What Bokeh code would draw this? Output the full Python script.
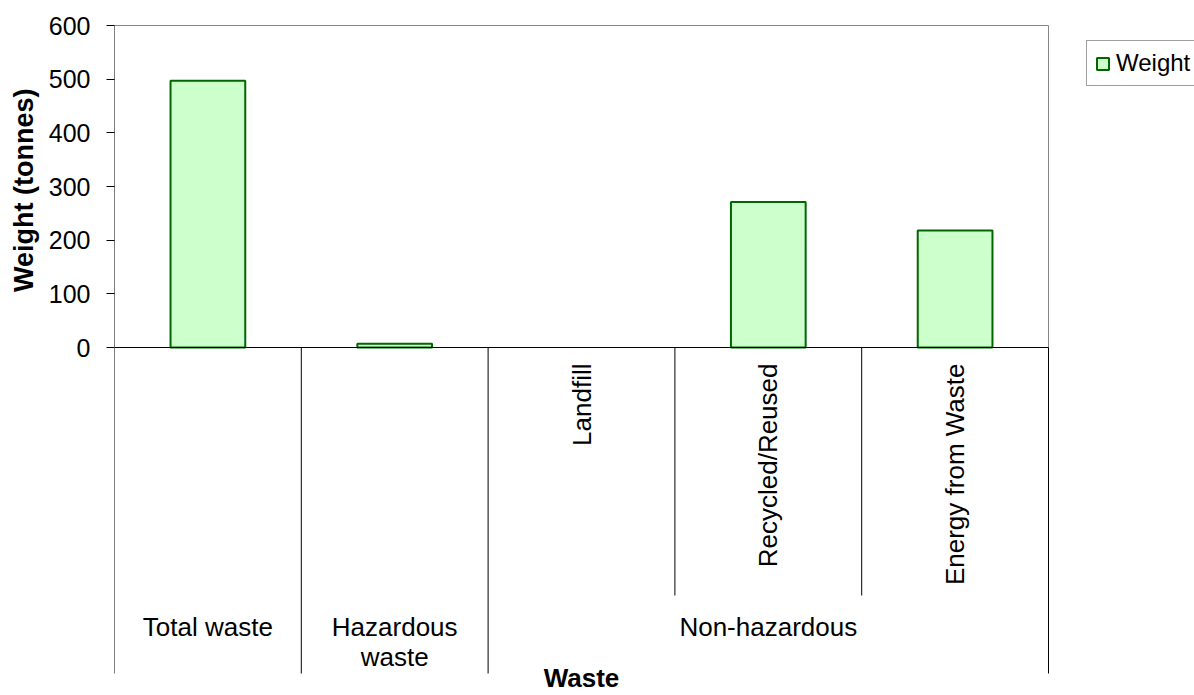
import math
from bokeh.plotting import figure
from bokeh.models import (Range1d, FixedTicker, Legend, LegendItem, ColumnDataSource,
                          CDSView, BooleanFilter, Title)
from bokeh.core.properties import value
from bokeh.embed import file_html
from bokeh.resources import INLINE

# ---------------- data ----------------
categories = ["Total waste", "Hazardous waste", "Landfill", "Recycled/Reused", "Energy from Waste"]
sub_labels = ["", "", "Landfill", "Recycled/Reused", "Energy from Waste"]
groups = ["Total waste", "Hazardous\nwaste", "Non-hazardous"]
group_spans = [1, 1, 3]
weights = [497, 7, 0, 271, 218]
y_ticks = [0, 100, 200, 300, 400, 500, 600]
series_name = "Weight"
y_title = "Weight (tonnes)"
x_title = "Waste"

# ---------------- layout ----------------
W, H = 1194, 695
LEFT, TOP = 114, 23          # frame origin on the canvas
CAT_PX = 186.8               # width of one category in px
PLOT_H = 322                 # height of 0..600 in px
FONT = "Liberation Sans"
Y_MAX = y_ticks[-1]
UPX = Y_MAX / PLOT_H         # data units per pixel (y)
TOP_PAD = 2                  # px above the 600 line inside the frame


def below(px):
    """data y value lying `px` screen pixels below the zero line"""
    return -px * UPX


n = len(categories)
frame_w = W - LEFT
frame_h = H - TOP
x_end = frame_w / CAT_PX
y_top = Y_MAX + TOP_PAD * UPX
y_bot = y_top - frame_h * UPX

xs = [i + 0.5 for i in range(n)]
src = ColumnDataSource(dict(x=xs, top=weights, cat=categories))

p = figure(width=W, height=H, output_backend="svg", toolbar_location=None,
           x_range=Range1d(0, x_end), y_range=Range1d(y_bot, y_top),
           x_axis_location=None, y_axis_location="left",
           min_border_left=LEFT, min_border_top=TOP,
           min_border_right=0, min_border_bottom=0)
p.xgrid.visible = False
p.ygrid.visible = False
p.outline_line_color = None
p.background_fill_color = "white"
p.border_fill_color = "white"

# y axis (ticks + labels only; lines drawn below)
ya = p.yaxis[0]
ya.ticker = FixedTicker(ticks=y_ticks)
ya.major_tick_in = 0
ya.major_tick_out = 8
ya.minor_tick_in = 0
ya.minor_tick_out = 0
ya.axis_line_color = None
ya.major_tick_line_color = "black"
ya.major_label_text_font = FONT
ya.major_label_text_font_size = "25px"
ya.major_label_text_color = "black"
ya.major_label_standoff = 16

# value-axis title, placed beside the 0..600 part
p.add_layout(Title(text=y_title, align="right", offset=65, standoff=13,
                   text_font=FONT, text_font_size="27px", text_font_style="bold",
                   text_color="black"), "left")

# plot-area border (grey top/right)
p.segment(x0=[0, n], y0=[Y_MAX, Y_MAX], x1=[n, n], y1=[Y_MAX, 0],
          line_color="#868686", line_width=1)

# bars (a zero value draws nothing)
view = CDSView(filter=BooleanFilter([w > 0 for w in weights]))
r = p.vbar(x="x", top="top", bottom=0, width=0.4, source=src, view=view,
           fill_color="#CCFFCC", line_color="#006600", line_width=2)

# category separators / axis lines
bounds = [0]
for s in group_spans:
    bounds.append(bounds[-1] + s)
sx, sy0, sy1 = [], [], []
for b in bounds:
    sx.append(b); sy0.append(0); sy1.append(below(326))
for gi, s in enumerate(group_spans):
    for k in range(1, s):
        sx.append(bounds[gi] + k); sy0.append(0); sy1.append(below(248))
p.segment(x0=sx, y0=sy0, x1=sx, y1=sy1, line_color="black", line_width=1)
# value axis line and category axis line
p.segment(x0=[0, 0], y0=[0, 0], x1=[0, n], y1=[Y_MAX, 0], line_color="black", line_width=1)

# sub-category labels (rotated)
sub = [(x, t) for x, t in zip(xs, sub_labels) if t]
p.text(x=[a for a, _ in sub], y=[below(16)] * len(sub), text=[t for _, t in sub],
       angle=math.pi / 2, text_align="right", text_baseline="middle",
       text_font=value(FONT), text_font_size="26px", text_color="black")

# group labels
gx = [bounds[i] + s / 2 for i, s in enumerate(group_spans)]
p.text(x=gx, y=[below(264)] * len(gx), text=groups, text_align="center",
       text_baseline="top", text_font=value(FONT), text_font_size="26px",
       text_color="black", text_line_height=1.0)

# category axis title
p.text(x=[n / 2], y=[below(330)], text=[x_title], text_align="center",
       text_baseline="middle", text_font=value(FONT), text_font_size="26px",
       text_font_style="bold", text_color="black")

# legend
legend = Legend(items=[LegendItem(label=series_name, renderers=[r])],
                location=(972, H - 86), padding=8, margin=0, spacing=0,
                glyph_width=15, glyph_height=15, label_standoff=6,
                label_text_font=FONT, label_text_font_size="24px",
                label_text_color="black", border_line_color="#404040",
                border_line_width=1, background_fill_color="white",
                background_fill_alpha=1)
p.add_layout(legend)

open("out.html", "w").write(file_html(p, INLINE))
